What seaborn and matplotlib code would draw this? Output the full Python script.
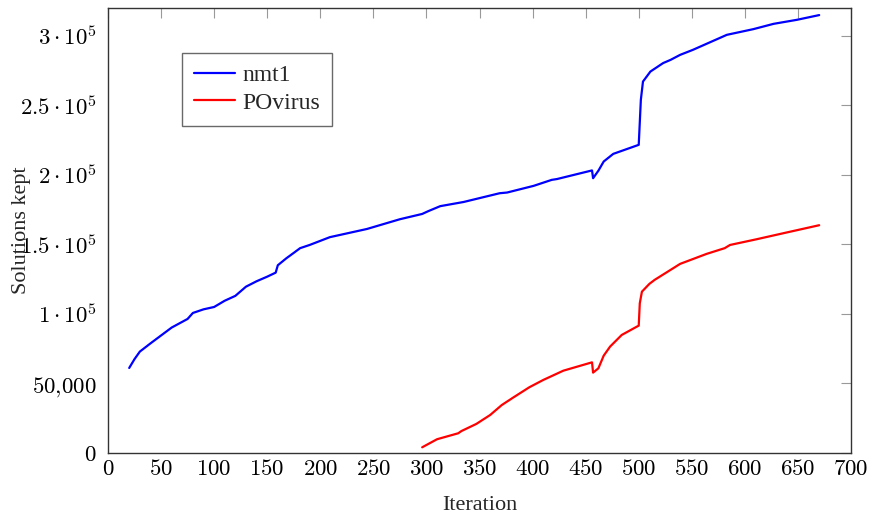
import matplotlib
matplotlib.use("Agg")
import matplotlib.pyplot as plt
import seaborn as sns
import pandas as pd

# Solutions kept per iteration for each instance
nmt1_iter = [20, 25, 30, 40, 50, 60, 75, 80, 90, 100, 110, 120, 130, 140, 150,
             158, 160, 168, 175, 181, 190, 209, 244, 275, 296, 302, 313, 335,
             369, 376, 401, 418, 423, 456, 457, 462, 467, 476, 500, 502, 504,
             511, 523, 530, 539, 551, 583, 608, 627, 649, 670]
nmt1_kept = [61150, 67500, 72900, 78800, 84500, 90200, 96400, 100700, 103300,
             105000, 109500, 113000, 119600, 123500, 126800, 129700, 135000,
             140000, 143900, 147300, 149600, 155200, 161100, 168100, 171900,
             174000, 177500, 180500, 186800, 187300, 192100, 196400, 197000,
             203200, 197600, 203000, 209600, 215100, 221600, 254000, 267100,
             274300, 280400, 282700, 286300, 289900, 300700, 304800, 308600,
             311500, 314900]

povirus_iter = [296, 310, 330, 333, 347, 360, 371, 382, 397, 410, 429, 456, 457,
                462, 467, 473, 484, 500, 501, 503, 510, 515, 539, 564, 581, 586,
                611, 636, 670]
povirus_kept = [4100, 9900, 14200, 15800, 20900, 27300, 34500, 40000, 47300,
                52500, 59200, 65200, 57800, 60900, 70000, 76500, 84900, 91600,
                107700, 116000, 121600, 124500, 136000, 143200, 147300, 149600,
                153700, 158000, 163800]

y_ticks = [0, 50000, 100000, 150000, 200000, 250000, 300000]
y_tick_labels = [r"$0$", r"$50{,}000$", r"$1\cdot10^{5}$", r"$1.5\cdot10^{5}$",
                 r"$2\cdot10^{5}$", r"$2.5\cdot10^{5}$", r"$3\cdot10^{5}$"]
x_ticks = list(range(0, 701, 50))

df = pd.concat([
    pd.DataFrame({"Iteration": nmt1_iter, "Solutions kept": nmt1_kept, "instance": "nmt1"}),
    pd.DataFrame({"Iteration": povirus_iter, "Solutions kept": povirus_kept, "instance": "POvirus"}),
], ignore_index=True)

sns.set_style("white")
plt.rcParams["font.family"] = ["Liberation Serif", "DejaVu Serif"]
plt.rcParams["mathtext.fontset"] = "cm"

fig = plt.figure(figsize=(8.7, 5.16), dpi=100)
ax = fig.add_axes([0.1241, 0.1221, 0.8541, 0.8624])

sns.lineplot(data=df, x="Iteration", y="Solutions kept", hue="instance",
             palette={"nmt1": "#0000ff", "POvirus": "#ff0000"},
             linewidth=1.6, ax=ax, sort=False, estimator=None)

ax.set_xlim(0, 700)
ax.set_ylim(0, 320000)
ax.set_xticks(x_ticks)
ax.set_xticklabels([rf"${t}$" for t in x_ticks])
ax.set_yticks(y_ticks)
ax.set_yticklabels(y_tick_labels)

ax.tick_params(axis="both", which="both", direction="in", length=7, width=0.8,
               color="#999999", top=True, right=True, labelsize=16.5,
               labelcolor="black")
ax.tick_params(axis="y", pad=8)
ax.tick_params(axis="x", pad=4)
for s in ax.spines.values():
    s.set_color("#333333")
    s.set_linewidth(1.0)

ax.set_xlabel("Iteration", fontsize=16, labelpad=12)
ax.set_ylabel("Solutions kept", fontsize=16)
ax.yaxis.set_label_coords(-0.104, 0.5)

leg = ax.legend(loc="upper left", bbox_to_anchor=(0.0996, 0.899), fontsize=17,
                frameon=True, fancybox=False, edgecolor="#444444",
                handlelength=1.75, borderpad=0.5, labelspacing=0.25,
                handletextpad=0.3, borderaxespad=0)
leg.get_frame().set_linewidth(1.0)
leg.set_title(None)

fig.savefig("out.png", dpi=100)
